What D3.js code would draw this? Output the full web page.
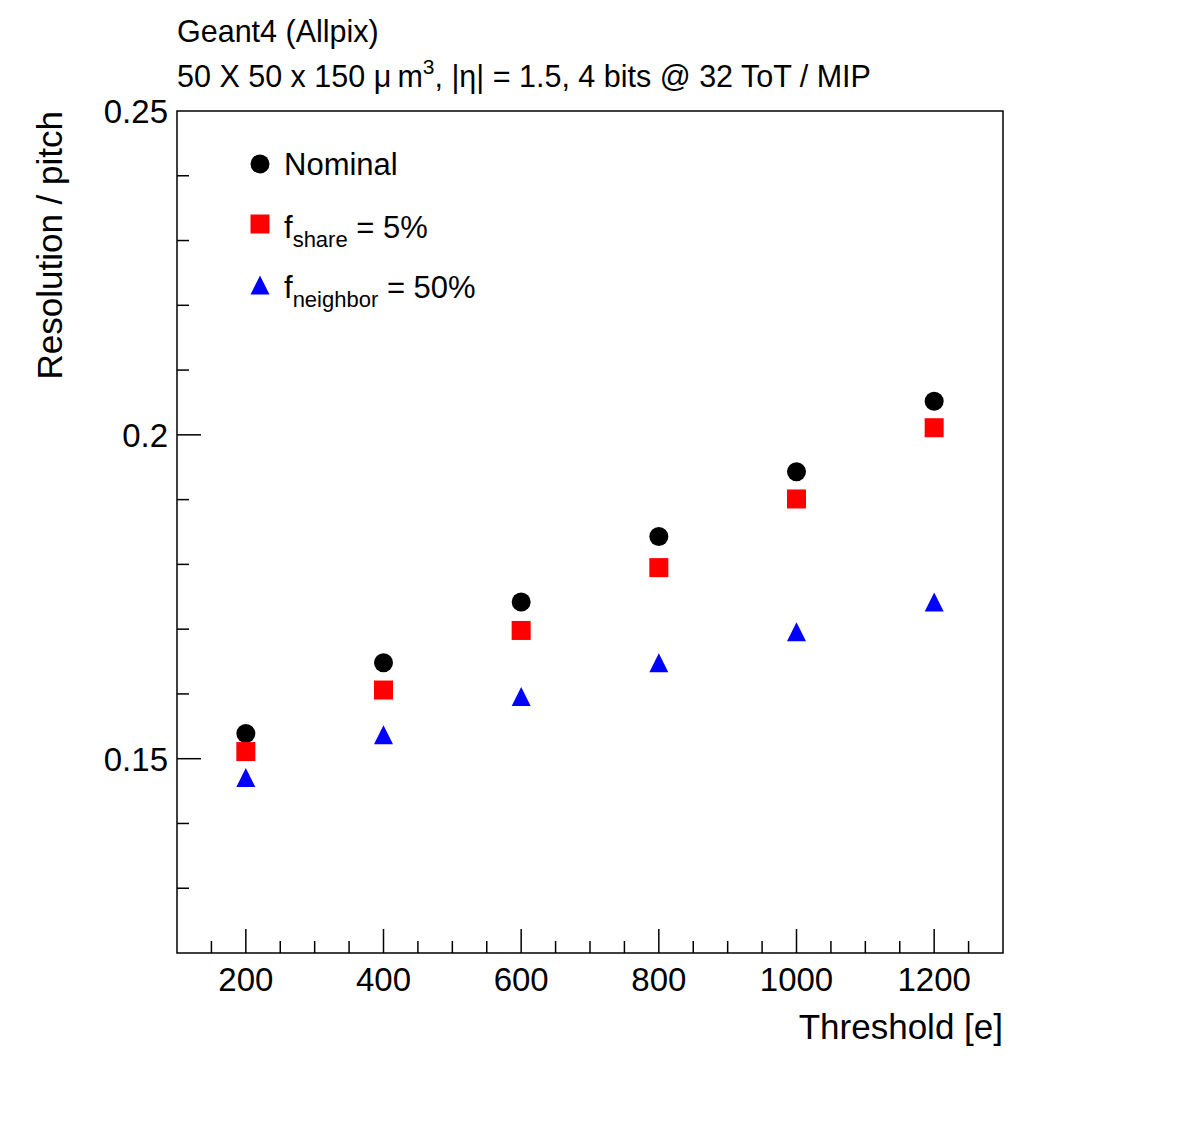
<!DOCTYPE html>
<html>
<head>
<meta charset="utf-8">
<script src="https://cdn.jsdelivr.net/npm/d3@7"></script>
<style>
  body { margin: 0; background: #fff; }
  text { font-family: "Liberation Sans", Arial, sans-serif; fill: #000; }
</style>
</head>
<body>
<div id="chart"></div>
<script>
// data
var thresholds = [200, 400, 600, 800, 1000, 1200];
var nominal = [0.1539, 0.1648, 0.1742, 0.1843, 0.1943, 0.2052];
var fshare = [0.1511, 0.1606, 0.1698, 0.1795, 0.1901, 0.2011];
var fneighbor = [0.1471, 0.1537, 0.1596, 0.1648, 0.1696, 0.1742];
var xTicks = [200, 400, 600, 800, 1000, 1200];
var yTicks = [0.15, 0.2, 0.25];

var W = 1182, H = 1123;
var margin = { top: 111, right: 179, bottom: 170, left: 177 },
    width = W - margin.left - margin.right,
    height = H - margin.top - margin.bottom;

var svg = d3.select("#chart").append("svg")
    .attr("width", W).attr("height", H);

var g = svg.append("g")
    .attr("transform", "translate(" + margin.left + "," + margin.top + ")");

var x = d3.scaleLinear().domain([100, 1300]).range([0, width]);
var y = d3.scaleLinear().domain([0.12, 0.25]).range([height, 0]);

// frame
g.append("rect")
    .attr("width", width).attr("height", height)
    .attr("fill", "none").attr("stroke", "#000").attr("stroke-width", 1.5);

// x ticks (inside, pointing up)
var xMinor = d3.range(150, 1300, 50);
g.selectAll(".xt").data(xMinor).enter().append("line")
    .attr("x1", function (d) { return x(d) }).attr("x2", function (d) { return x(d) })
    .attr("y1", height)
    .attr("y2", function (d) { return height - (d % 200 == 0 ? 24 : 12) })
    .attr("stroke", "#000").attr("stroke-width", 1.5);

g.selectAll(".xl").data(xTicks).enter().append("text")
    .attr("x", function (d) { return x(d) })
    .attr("y", height + 38)
    .attr("text-anchor", "middle")
    .style("font-size", "33px")
    .text(function (d) { return d; });

// y ticks (inside, pointing right)
var yMinor = d3.range(13, 25).map(function (i) { return i / 100; });
g.selectAll(".yt").data(yMinor).enter().append("line")
    .attr("x1", 0)
    .attr("x2", function (d) { return Math.round(d * 100) % 5 == 0 ? 24 : 12 })
    .attr("y1", function (d) { return y(d) }).attr("y2", function (d) { return y(d) })
    .attr("stroke", "#000").attr("stroke-width", 1.5);

g.selectAll(".yl").data(yTicks).enter().append("text")
    .attr("x", -9)
    .attr("y", function (d) { return y(d) + 12 })
    .attr("text-anchor", "end")
    .style("font-size", "33px")
    .text(function (d) { return d; });

// axis titles
svg.append("text")
    .attr("x", margin.left + width)
    .attr("y", 1039)
    .attr("text-anchor", "end")
    .style("font-size", "35px")
    .text("Threshold [e]");

svg.append("text")
    .attr("transform", "translate(62," + margin.top + ") rotate(-90)")
    .attr("text-anchor", "end")
    .style("font-size", "35px")
    .text("Resolution / pitch");

// header
svg.append("text").attr("x", 177).attr("y", 42)
    .style("font-size", "30.5px").text("Geant4 (Allpix)");
var sub = svg.append("text").attr("x", 177).attr("y", 87).style("font-size", "30.5px");
sub.append("tspan").text("50 X 50 x 150 \u03bc\u2009m");
sub.append("tspan").attr("dy", -13).style("font-size", "21px").text("3");
sub.append("tspan").attr("dy", 13).text(", |\u03b7| = 1.5, 4 bits @ 32 ToT / MIP");

// markers
var sym = 19;
var tri = "M0,-9.5L9.5,9.5L-9.5,9.5Z";

g.selectAll(".nom").data(thresholds).enter().append("circle")
    .attr("cx", function (d) { return x(d) })
    .attr("cy", function (d, i) { return y(nominal[i]) })
    .attr("r", sym / 2).attr("fill", "#000");

g.selectAll(".sh").data(thresholds).enter().append("rect")
    .attr("x", function (d) { return x(d) - sym / 2 })
    .attr("y", function (d, i) { return y(fshare[i]) - sym / 2 })
    .attr("width", sym).attr("height", sym).attr("fill", "#ff0000");

g.selectAll(".nb").data(thresholds).enter().append("path")
    .attr("d", tri)
    .attr("transform", function (d, i) { return "translate(" + x(d) + "," + y(fneighbor[i]) + ")" })
    .attr("fill", "#0000ff");

// legend
var lg = svg.append("g");
lg.append("circle").attr("cx", 260).attr("cy", 164).attr("r", sym / 2).attr("fill", "#000");
lg.append("text").attr("x", 284).attr("y", 175).style("font-size", "31px").text("Nominal");

lg.append("rect").attr("x", 260 - sym / 2).attr("y", 224 - sym / 2)
    .attr("width", sym).attr("height", sym).attr("fill", "#ff0000");
var t2 = lg.append("text").attr("x", 284).attr("y", 238).style("font-size", "31px");
t2.append("tspan").text("f");
t2.append("tspan").attr("dy", 9).style("font-size", "22px").text("share");
t2.append("tspan").attr("dy", -9).text(" = 5%");

lg.append("path").attr("d", tri).attr("transform", "translate(260,285)").attr("fill", "#0000ff");
var t3 = lg.append("text").attr("x", 284).attr("y", 298).style("font-size", "31px");
t3.append("tspan").text("f");
t3.append("tspan").attr("dy", 9).style("font-size", "22px").text("neighbor");
t3.append("tspan").attr("dy", -9).text(" = 50%");
</script>
</body>
</html>
